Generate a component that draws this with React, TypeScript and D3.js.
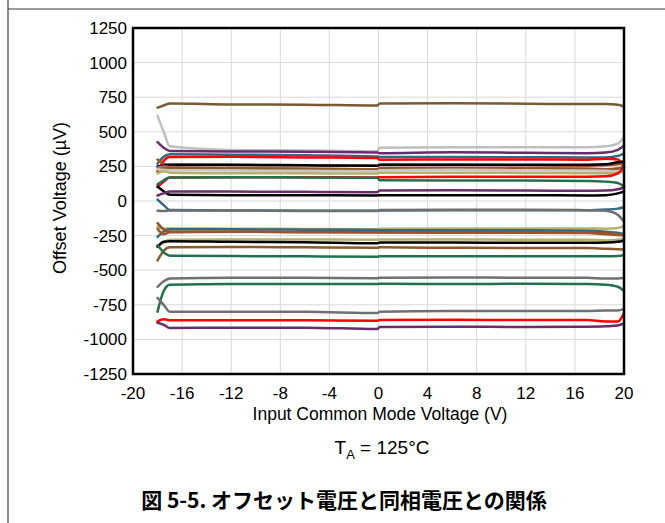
import React from "react";
import * as d3 from "d3";

const xPoints = [-18, -17.5, -17, -12, -6, -0.1, 0.1, 6, 12, 17, 18.5, 19.5, 20];

const seriesColors = [
  "#7a5a35", "#bfbfbf", "#6b2c6b", "#2f6b85", "#ff0000", "#a0522d", "#000000", "#b56a6a",
  "#8b5a2b", "#c8c8c8", "#b5b06a", "#ff0000", "#23704e", "#000000", "#6b2c6b", "#2f6b85",
  "#707070", "#b5b06a", "#2f6b85", "#8b5a2b", "#a0522d", "#b5b06a", "#000000", "#8b5a2b",
  "#23704e", "#707070", "#23704e", "#707070", "#ff0000", "#6b2c6b",
];

const s01 = [675, 690, 705, 698, 696, 690, 705, 706, 703, 700, 700, 695, 683];
const s02 = [615, 500, 395, 368, 365, 360, 385, 388, 388, 388, 395, 415, 460];
const s03 = [425, 385, 362, 358, 356, 350, 345, 352, 348, 345, 350, 370, 400];
const s04 = [270, 320, 338, 335, 330, 322, 318, 318, 316, 315, 315, 325, 345];
const s05 = [210, 290, 318, 320, 315, 310, 298, 300, 300, 298, 305, 300, 240];
const s06 = [300, 270, 262, 260, 258, 255, 262, 262, 258, 255, 258, 265, 280];
const s07 = [250, 255, 262, 262, 258, 255, 262, 262, 262, 262, 265, 280, 285];
const s08 = [240, 250, 245, 240, 235, 230, 240, 240, 238, 235, 230, 235, 250];
const s09 = [220, 235, 238, 236, 232, 228, 235, 236, 234, 232, 228, 235, 245];
const s10 = [230, 225, 222, 220, 218, 215, 222, 225, 222, 220, 218, 215, 210];
const s11 = [200, 215, 205, 200, 200, 198, 205, 205, 203, 200, 200, 205, 215];
const s12 = [100, 140, 170, 172, 172, 170, 172, 175, 175, 175, 178, 200, 250];
const s13 = [120, 150, 170, 172, 170, 168, 150, 148, 148, 145, 140, 130, 105];
const s14 = [105, 70, 45, 42, 42, 40, 42, 42, 42, 40, 42, 55, 68];
const s15 = [40, 55, 68, 68, 66, 64, 75, 78, 76, 74, 75, 85, 98];
const s16 = [10, -30, -65, -68, -70, -70, -68, -67, -67, -67, -62, -55, -45];
const s17 = [-70, -72, -68, -68, -72, -72, -65, -64, -64, -66, -70, -100, -150];
const s18 = [-185, -200, -198, -200, -202, -205, -200, -198, -198, -198, -200, -195, -180];
const s19 = [-260, -220, -205, -205, -207, -210, -212, -212, -212, -215, -222, -230, -240];
const s20 = [-160, -205, -222, -222, -224, -226, -225, -226, -226, -228, -232, -240, -245];
const s21 = [-200, -240, -225, -222, -225, -228, -228, -230, -230, -232, -240, -245, -250];
const s22 = [-330, -300, -280, -278, -278, -280, -278, -278, -280, -280, -285, -280, -270];
const s23 = [-330, -295, -290, -295, -298, -305, -300, -300, -302, -302, -300, -295, -285];
const s24 = [-430, -360, -335, -332, -335, -338, -335, -338, -340, -340, -345, -348, -350];
const s25 = [-320, -370, -395, -398, -400, -402, -400, -400, -400, -400, -400, -398, -390];
const s26 = [-620, -580, -560, -555, -555, -558, -555, -552, -555, -555, -560, -560, -555];
const s27 = [-800, -650, -605, -600, -600, -600, -598, -600, -598, -600, -605, -620, -650];
const s28 = [-700, -750, -800, -800, -800, -810, -800, -795, -795, -795, -792, -792, -780];
const s29 = [-870, -855, -862, -862, -862, -865, -860, -858, -860, -860, -870, -870, -810];
const s30 = [-880, -895, -918, -915, -915, -925, -910, -908, -910, -908, -905, -900, -885];

const allSeries = [s01, s02, s03, s04, s05, s06, s07, s08, s09, s10, s11, s12, s13, s14, s15,
  s16, s17, s18, s19, s20, s21, s22, s23, s24, s25, s26, s27, s28, s29, s30];

const xTicks = [-20, -16, -12, -8, -4, 0, 4, 8, 12, 16, 20];
const yTicks = [1250, 1000, 750, 500, 250, 0, -250, -500, -750, -1000, -1250];

const W = 665, H = 523;
const left = 133, right = 624, top = 28, bottom = 374;

export default function App() {
  const x = d3.scaleLinear().domain([-20, 20]).range([left, right]);
  const y = d3.scaleLinear().domain([-1250, 1250]).range([bottom, top]);
  const line = d3.line<number>()
    .x((_, i) => x(xPoints[i]))
    .y((d) => y(d))
    .curve(d3.curveMonotoneX);
  const font = "'Liberation Sans', Arial, sans-serif";
  return (
    <svg width={W} height={H} style={{ position: "absolute", left: 0, top: 0, background: "#fff" }}
      fontFamily={font}>
      <line x1={8} y1={0} x2={8} y2={H} stroke="#666" strokeWidth={1.5} />
      <line x1={8} y1={9} x2={W} y2={9} stroke="#333" strokeWidth={1} />
      {xTicks.map((t) => (
        <line key={"gx" + t} x1={x(t)} x2={x(t)} y1={top} y2={bottom} stroke="#d9d9d9" strokeWidth={1} />
      ))}
      {yTicks.map((t) => (
        <line key={"gy" + t} x1={left} x2={right} y1={y(t)} y2={y(t)} stroke="#d9d9d9" strokeWidth={1} />
      ))}
      {allSeries.map((s, i) => (
        <path key={i} d={line(s) || ""} fill="none" stroke={seriesColors[i]} strokeWidth={2.5}
          strokeLinejoin="round" strokeLinecap="round" />
      ))}
      <rect x={left} y={top} width={right - left} height={bottom - top} fill="none" stroke="#000" strokeWidth={2.5} />
      {yTicks.map((t) => (
        <text key={"ty" + t} x={left - 6} y={y(t)} dy="0.35em" textAnchor="end" fontSize={17}>{t}</text>
      ))}
      {xTicks.map((t) => (
        <text key={"tx" + t} x={x(t)} y={bottom + 25} textAnchor="middle" fontSize={17}>{t}</text>
      ))}
      <text x={380} y={420} textAnchor="middle" fontSize={17.5}>Input Common Mode Voltage (V)</text>
      <text transform={`translate(66,${(top + bottom) / 2 - 3}) rotate(-90)`} textAnchor="middle" fontSize={18}>Offset Voltage (µV)</text>
      <text x={382} y={454} textAnchor="middle" fontSize={19}>
        T<tspan fontSize={13} dy={5}>A</tspan><tspan dy={-5}> = 125°C</tspan>
      </text>
      <text x={344} y={508} textAnchor="middle" fontSize={21} fontWeight="bold"
        fontFamily="'Noto Sans CJK JP', 'Liberation Sans', sans-serif">図 5-5. オフセット電圧と同相電圧との関係</text>
    </svg>
  );
}
